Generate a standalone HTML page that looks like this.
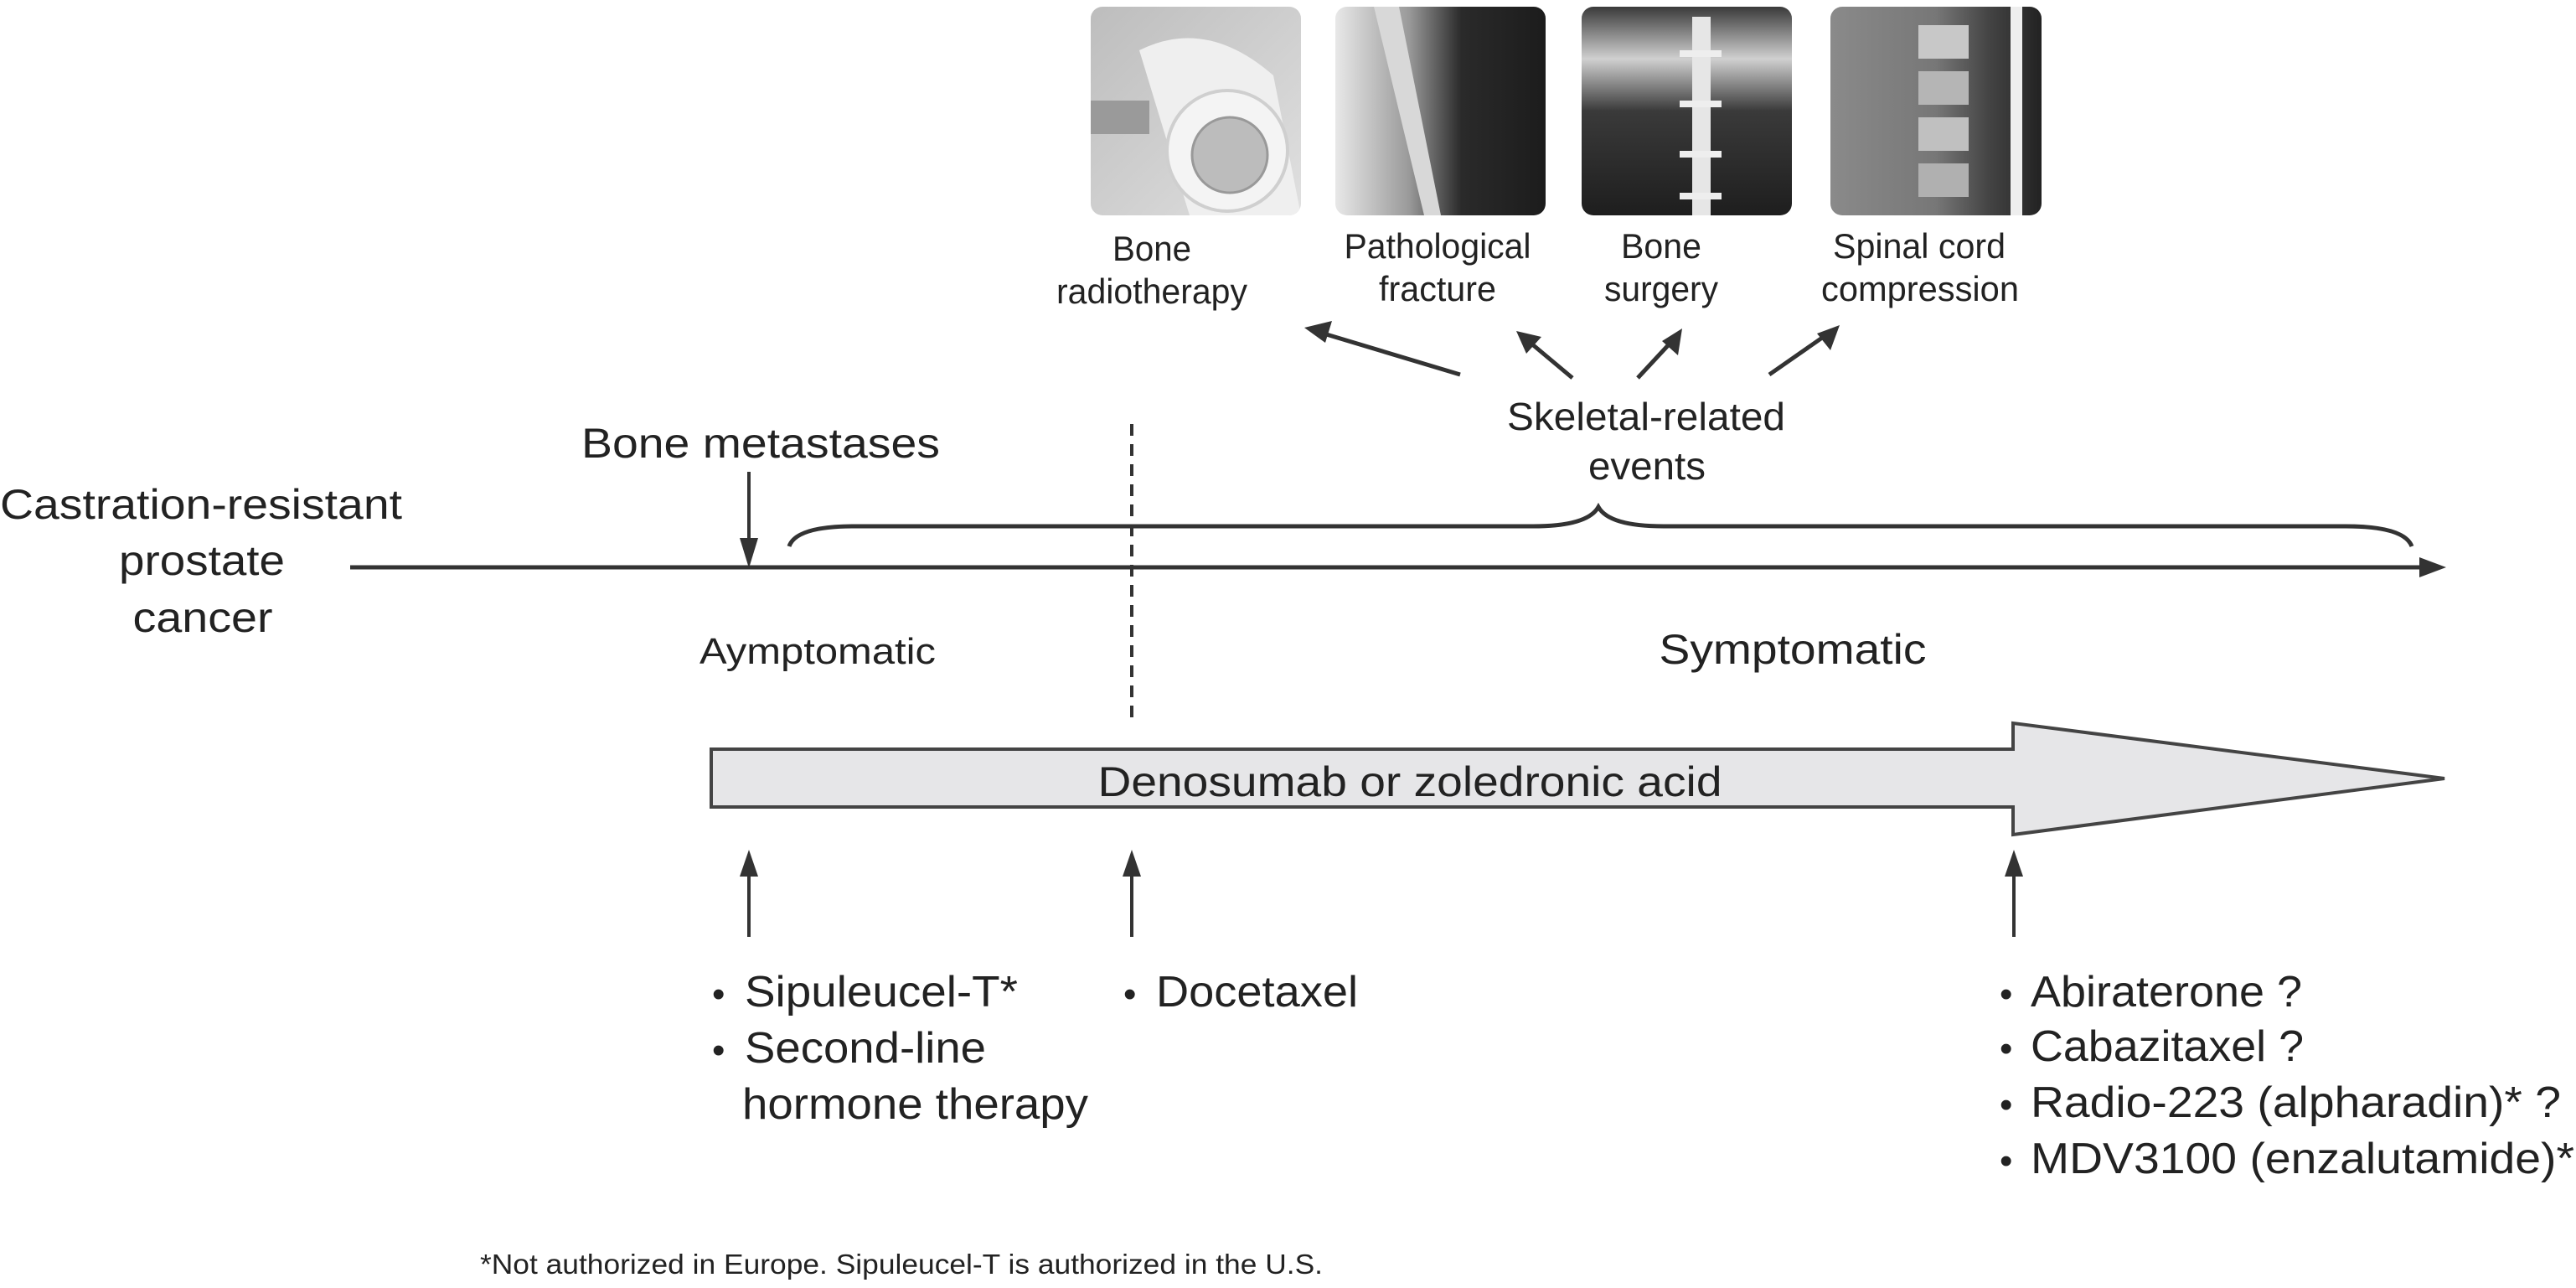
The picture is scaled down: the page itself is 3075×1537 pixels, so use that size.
<!DOCTYPE html>
<html><head><meta charset="utf-8"><style>
html,body{margin:0;padding:0;background:#fff;}
svg{display:block;}
text{font-family:"Liberation Sans",sans-serif;fill:#222;}
</style></head><body>
<svg width="3075" height="1537" viewBox="0 0 3075 1537" xmlns="http://www.w3.org/2000/svg">
<defs>
<linearGradient id="g1" x1="0" y1="0" x2="1" y2="1"><stop offset="0" stop-color="#bdbdbd"/><stop offset="1" stop-color="#e0e0e0"/></linearGradient>
<linearGradient id="g2" x1="0" y1="0" x2="1" y2="0"><stop offset="0" stop-color="#e8e8e8"/><stop offset="0.35" stop-color="#9a9a9a"/><stop offset="0.6" stop-color="#2a2a2a"/><stop offset="1" stop-color="#1c1c1c"/></linearGradient>
<linearGradient id="g3" x1="0" y1="0" x2="0" y2="1"><stop offset="0" stop-color="#3a3a3a"/><stop offset="0.25" stop-color="#d0d0d0"/><stop offset="0.5" stop-color="#3a3a3a"/><stop offset="1" stop-color="#1e1e1e"/></linearGradient>
<linearGradient id="g4" x1="0" y1="0" x2="1" y2="0"><stop offset="0" stop-color="#8a8a8a"/><stop offset="0.5" stop-color="#777"/><stop offset="0.75" stop-color="#444"/><stop offset="1" stop-color="#222"/></linearGradient>
<clipPath id="c1"><rect x="1302" y="8" width="251" height="249" rx="14"/></clipPath>
<clipPath id="c2"><rect x="1594" y="8" width="251" height="249" rx="14"/></clipPath>
<clipPath id="c3"><rect x="1888" y="8" width="251" height="249" rx="14"/></clipPath>
<clipPath id="c4"><rect x="2185" y="8" width="252" height="249" rx="14"/></clipPath>
</defs>

<g clip-path="url(#c1)">
<rect x="1302" y="8" width="251" height="249" fill="url(#g1)"/>
<path d="M1360 60 Q1440 20 1520 90 L1553 257 L1420 257 Z" fill="#efefef"/>
<circle cx="1465" cy="180" r="72" fill="#f4f4f4" stroke="#cfcfcf" stroke-width="4"/>
<circle cx="1468" cy="185" r="45" fill="#bcbcbc" stroke="#999" stroke-width="3"/>
<rect x="1302" y="120" width="70" height="40" fill="#9a9a9a"/>
</g>
<g clip-path="url(#c2)">
<rect x="1594" y="8" width="251" height="249" fill="url(#g2)"/>
<path d="M1640 8 L1670 8 L1720 257 L1700 257 Z" fill="#d8d8d8"/>
</g>
<g clip-path="url(#c3)">
<rect x="1888" y="8" width="251" height="249" fill="url(#g3)"/>
<rect x="2020" y="20" width="22" height="237" fill="#e6e6e6"/>
<rect x="2005" y="60" width="50" height="8" fill="#eee"/>
<rect x="2005" y="120" width="50" height="8" fill="#eee"/>
<rect x="2005" y="180" width="50" height="8" fill="#eee"/>
<rect x="2005" y="230" width="50" height="8" fill="#eee"/>
</g>
<g clip-path="url(#c4)">
<rect x="2185" y="8" width="252" height="249" fill="url(#g4)"/>
<rect x="2290" y="30" width="60" height="40" fill="#c8c8c8"/>
<rect x="2290" y="85" width="60" height="40" fill="#b5b5b5"/>
<rect x="2290" y="140" width="60" height="40" fill="#c0c0c0"/>
<rect x="2290" y="195" width="60" height="40" fill="#b0b0b0"/>
<rect x="2400" y="8" width="14" height="249" fill="#eee"/>
</g>

<g font-size="42" text-anchor="middle">
<text x="1375" y="311" textLength="94" lengthAdjust="spacingAndGlyphs">Bone</text>
<text x="1375" y="362" textLength="228" lengthAdjust="spacingAndGlyphs">radiotherapy</text>
<text x="1716" y="308" textLength="223" lengthAdjust="spacingAndGlyphs">Pathological</text>
<text x="1716" y="359" textLength="140" lengthAdjust="spacingAndGlyphs">fracture</text>
<text x="1983" y="308" textLength="96" lengthAdjust="spacingAndGlyphs">Bone</text>
<text x="1983" y="359" textLength="136" lengthAdjust="spacingAndGlyphs">surgery</text>
<text x="2291" y="308" textLength="206" lengthAdjust="spacingAndGlyphs">Spinal cord</text>
<text x="2292" y="359" textLength="236" lengthAdjust="spacingAndGlyphs">compression</text>
</g>

<g stroke="#333" stroke-width="5" fill="#333">
<line x1="1743" y1="447" x2="1580" y2="398"/>
<polygon points="1557,391 1590,383 1582,409" stroke="none"/>
<line x1="1877" y1="451" x2="1828" y2="410"/>
<polygon points="1810,395 1840,402 1822,422" stroke="none"/>
<line x1="1955" y1="451" x2="1995" y2="408"/>
<polygon points="2008,392 2003,424 1984,407" stroke="none"/>
<line x1="2112" y1="447" x2="2178" y2="401"/>
<polygon points="2196,388 2185,418 2169,398" stroke="none"/>
</g>

<g font-size="46" text-anchor="middle">
<text x="1965" y="513" textLength="332" lengthAdjust="spacingAndGlyphs">Skeletal-related</text>
<text x="1966" y="572" textLength="140" lengthAdjust="spacingAndGlyphs">events</text>
</g>

<g font-size="50" text-anchor="middle">
<text x="240" y="619" textLength="480" lengthAdjust="spacingAndGlyphs">Castration-resistant</text>
<text x="241" y="686" textLength="198" lengthAdjust="spacingAndGlyphs">prostate</text>
<text x="242" y="754" textLength="167" lengthAdjust="spacingAndGlyphs">cancer</text>
<text x="908" y="546" textLength="428" lengthAdjust="spacingAndGlyphs">Bone metastases</text>
</g>

<line x1="418" y1="677" x2="2900" y2="677" stroke="#333" stroke-width="5"/>
<polygon points="2920,677 2888,665 2888,689" fill="#333"/>
<line x1="894" y1="563" x2="894" y2="650" stroke="#333" stroke-width="4"/>
<polygon points="894,678 883,642 905,642" fill="#333"/>
<path d="M942 652 Q950 628 1020 628 L1830 628 Q1895 628 1908 605 Q1921 628 1986 628 L2800 628 Q2870 628 2879 652" fill="none" stroke="#333" stroke-width="5"/>
<line x1="1351" y1="506" x2="1351" y2="863" stroke="#333" stroke-width="4" stroke-dasharray="14,10"/>

<text x="976" y="792" font-size="44" text-anchor="middle" textLength="282" lengthAdjust="spacingAndGlyphs">Aymptomatic</text>
<text x="2140" y="792" font-size="50" text-anchor="middle" textLength="319" lengthAdjust="spacingAndGlyphs">Symptomatic</text>

<polygon points="849,894 2403,894 2403,863 2918,929 2403,996 2403,963 849,963" fill="#e6e6e8" stroke="#444" stroke-width="4"/>
<text x="1683" y="950" font-size="50" text-anchor="middle" textLength="745" lengthAdjust="spacingAndGlyphs">Denosumab or zoledronic acid</text>

<g stroke="#333" stroke-width="4">
<line x1="894" y1="1118" x2="894" y2="1040"/>
<line x1="1351" y1="1118" x2="1351" y2="1040"/>
<line x1="2404" y1="1118" x2="2404" y2="1040"/>
</g>
<g fill="#333">
<polygon points="894,1014 883,1046 905,1046"/>
<polygon points="1351,1014 1340,1046 1362,1046"/>
<polygon points="2404,1014 2393,1046 2415,1046"/>
</g>

<g font-size="52">
<text x="850" y="1201" font-size="44">•</text>
<text x="889" y="1201" textLength="326" lengthAdjust="spacingAndGlyphs">Sipuleucel-T*</text>
<text x="850" y="1268" font-size="44">•</text>
<text x="889" y="1268" textLength="288" lengthAdjust="spacingAndGlyphs">Second-line</text>
<text x="886" y="1335" textLength="413" lengthAdjust="spacingAndGlyphs">hormone therapy</text>
<text x="1341" y="1201" font-size="44">•</text>
<text x="1380" y="1201" textLength="241" lengthAdjust="spacingAndGlyphs">Docetaxel</text>
<text x="2387" y="1201" font-size="44">•</text>
<text x="2424" y="1201" textLength="324" lengthAdjust="spacingAndGlyphs">Abiraterone ?</text>
<text x="2387" y="1266" font-size="44">•</text>
<text x="2424" y="1266" textLength="326" lengthAdjust="spacingAndGlyphs">Cabazitaxel ?</text>
<text x="2387" y="1333" font-size="44">•</text>
<text x="2424" y="1333" textLength="633" lengthAdjust="spacingAndGlyphs">Radio-223 (alpharadin)* ?</text>
<text x="2387" y="1400" font-size="44">•</text>
<text x="2424" y="1400" textLength="649" lengthAdjust="spacingAndGlyphs">MDV3100 (enzalutamide)*</text>
</g>

<text x="573" y="1520" font-size="33" textLength="1006" lengthAdjust="spacingAndGlyphs">*Not authorized in Europe. Sipuleucel-T is authorized in the U.S.</text>
</svg>
</body></html>
